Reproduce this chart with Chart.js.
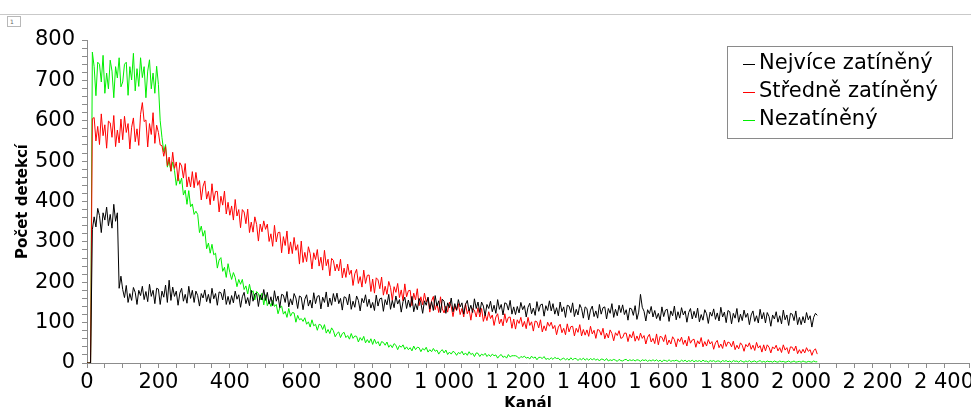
<!DOCTYPE html>
<html>
<head>
<meta charset="utf-8">
<script src="https://cdn.jsdelivr.net/npm/chart.js@4.4.1/dist/chart.umd.min.js"></script>
<style>
  html, body { margin: 0; padding: 0; background: #fff; overflow: hidden; }
  #wrap { position: relative; width: 971px; height: 407px; }
  #topline { position: absolute; left: 0; top: 14px; width: 971px; height: 0; border-top: 1px solid #c9c9c9; z-index: 2; }
  #pagebox { position: absolute; left: 7px; top: 16px; width: 12px; height: 9px; border: 1px solid #b8b8b8; font: 6px "DejaVu Sans", sans-serif; color: #666; line-height: 9px; text-indent: 2px; z-index: 2; background: #fff; }
  canvas { position: absolute; left: 0; top: 0; }
</style>
</head>
<body>
<div id="wrap">
  <div id="topline"></div>
  <div id="pagebox">1</div>
  <canvas id="c" width="971" height="407"></canvas>
</div>
<script>
// Channel spacing of the sampled points (channels 0, 5, 10, ... 2045)
const channelStep = 5;

const nejvice = [
  0,0,0,330,362,337,383,365,323,372,354,386,340,368,334,393,351,372,185,215,
  182,162,192,150,172,155,187,175,145,180,167,190,157,177,152,195,165,180,147,185,
  183,145,178,163,193,150,205,155,188,165,178,143,173,185,153,170,148,190,160,180,
  150,178,167,141,172,161,181,152,170,148,185,159,172,143,176,174,156,183,145,165,
  145,167,149,178,158,169,138,164,175,147,162,142,180,153,171,173,140,169,156,182,
  155,175,146,164,142,179,153,166,137,170,168,150,177,139,159,144,172,161,135,166,
  163,132,158,169,141,156,136,174,147,165,167,134,163,150,176,139,161,143,172,152,
  173,147,160,131,164,162,144,171,133,153,138,166,155,129,160,149,169,140,158,136,
  150,130,168,141,159,161,128,157,144,170,133,155,137,166,146,157,126,152,163,135,
  156,138,165,127,147,132,160,149,123,154,143,163,134,152,130,167,141,154,125,158,
  153,123,149,137,161,127,147,131,157,139,149,121,145,155,129,143,125,159,135,151,
  125,151,141,117,145,135,153,127,143,123,157,133,145,119,149,147,131,155,121,139,
  120,140,124,150,132,142,114,138,148,122,136,118,152,128,144,146,116,142,130,154,
  129,147,121,137,117,151,127,139,113,143,141,125,149,115,133,119,145,135,111,139,
  135,107,131,141,115,129,111,145,121,137,139,109,135,123,147,113,133,117,143,125,
  144,120,132,106,136,134,118,142,108,126,170,138,128,104,132,122,140,114,130,110,
  123,105,139,115,131,133,103,129,117,141,107,127,111,137,119,129,101,125,135,109,
  128,112,136,102,120,106,132,122,98,126,116,134,108,124,104,138,114,126,100,130,
  127,97,123,111,135,101,121,105,131,113,123,95,119,129,103,117,99,133,109,125,
  99,125,115,91,119,109,127,101,117,97,131,107,119,93,123,121,105,129,95,113,
  95,115,99,125,107,117,89,113,123,118
];

const stredne = [
  0,0,0,605,608,550,586,541,617,563,590,532,599,595,559,613,536,577,545,604,
  553,611,571,593,530,584,607,548,580,539,616,645,598,602,535,593,566,620,544,589,
  571,540,538,512,536,489,510,475,522,482,498,451,496,488,458,494,436,461,436,474,
  434,472,440,452,404,438,451,406,425,392,444,402,425,425,374,413,391,426,369,398,
  366,389,354,405,364,380,335,380,374,345,381,323,349,324,362,343,302,344,325,352,
  331,344,301,320,289,341,300,323,324,273,313,291,327,270,300,271,311,279,293,245,
  302,249,274,251,288,271,233,273,256,281,240,262,230,279,241,257,216,259,254,228,
  245,228,257,211,235,212,245,219,230,192,221,232,197,214,188,230,197,217,218,177,
  208,173,211,206,184,213,168,190,170,202,187,155,189,175,197,162,181,154,196,164,
  179,180,142,173,156,184,142,164,144,173,151,162,126,154,165,132,147,125,164,134,
  124,141,126,151,140,115,141,130,147,120,135,114,147,122,133,106,135,131,114,137,
  114,135,103,120,105,127,110,119,93,114,122,97,109,92,122,100,113,114,86,109,
  84,107,98,113,90,103,85,113,93,102,79,104,102,87,107,77,92,80,101,91,
  101,85,93,70,89,96,75,86,70,97,77,90,91,67,86,76,95,67,83,69,
  82,66,91,72,81,61,83,81,69,86,60,74,62,82,73,55,75,68,80,61,
  63,74,74,53,71,62,78,54,67,56,74,61,68,47,64,71,52,61,48,72,
  45,66,64,53,70,45,57,47,65,58,40,60,53,64,46,57,42,66,49,57,
  59,39,55,47,63,40,53,42,58,47,53,34,50,56,38,47,36,57,41,52,
  50,40,54,33,44,35,50,44,29,46,40,50,34,44,31,51,37,43,27,45,
  30,45,39,25,40,35,44,30,38,26,45,32,38,23,40,39,30,42,23,33,
  24,34,25,38,29,33,19,31,35,22
];

const nezatineny = [
  0,0,0,770,734,662,745,740,696,762,668,718,679,750,723,657,734,706,756,684,
  696,740,745,663,734,701,767,674,729,685,756,707,734,657,723,751,679,718,668,735,
  690,600,558,523,541,485,501,475,498,477,440,465,443,458,416,428,393,427,387,394,
  368,376,368,323,339,314,328,283,297,272,294,268,272,235,255,261,227,237,212,246,
  224,207,224,212,189,207,195,207,182,191,171,195,173,179,156,177,172,156,173,144,
  169,142,153,140,155,140,145,122,137,141,121,128,113,135,116,125,124,101,118,107,
  110,103,112,96,102,89,107,92,96,81,96,94,83,95,74,83,73,87,80,65,
  73,77,63,73,76,63,68,59,73,61,67,66,52,63,56,66,50,58,50,60,
  46,59,48,53,42,53,51,44,52,39,45,38,48,44,33,43,39,45,34,40,
  33,38,30,42,33,39,38,28,36,32,39,27,33,28,36,29,32,22,29,33,
  25,32,21,27,22,29,26,19,26,23,29,20,25,19,28,21,24,16,25,24,
  16,22,19,24,16,21,16,22,18,20,12,18,21,14,17,12,21,15,18,18,
  18,16,11,16,14,17,12,14,10,17,12,15,8,14,14,11,16,9,11,9,
  13,9,14,11,12,7,10,12,8,11,7,13,8,11,11,6,11,8,12,7,
  11,7,11,8,11,7,10,5,10,9,6,11,5,8,6,9,7,4,9,6,
  5,8,9,5,8,6,8,5,8,7,4,8,6,8,4,7,5,8,5,8,
  4,7,3,7,6,4,8,4,6,5,7,5,3,7,4,7,3,6,4,7,
  3,6,4,6,3,7,4,5,2,6,4,6,3,5,5,2,6,4,6,3,
  5,2,6,4,5,2,6,4,2,5,3,6,2,4,5,2,4,6,2,4,
  2,5,3,4,2,5,3,2,5,3,4,2,3,5,2,3,5,2,3,4,
  2,5,3,2,4,3,2,5,3,3
];

const seriesNames = ['Nejvíce zatíněný', 'Středně zatíněný', 'Nezatíněný'];
const seriesColors = ['#000000', '#ff0000', '#00ee00'];

const xTickValues = [0, 200, 400, 600, 800, 1000, 1200, 1400, 1600, 1800, 2000, 2200, 2400];
const yTickValues = [0, 100, 200, 300, 400, 500, 600, 700, 800];

const xTitle = 'Kanál';
const yTitle = 'Počet detekcí';

function toPoints(values) {
  return values.map((v, i) => ({ x: i * channelStep, y: v }));
}

function fmt(n) {
  return String(n).replace(/\B(?=(\d{3})+(?!\d))/g, ' ');
}

const boxLegend = {
  id: 'boxLegend',
  afterDraw(chart) {
    const ctx = chart.ctx;
    ctx.save();
    const bx = 727.5, by = 46.5, bw = 225, bh = 92;
    ctx.fillStyle = '#ffffff';
    ctx.fillRect(bx, by, bw, bh);
    ctx.strokeStyle = '#8a8a8a';
    ctx.lineWidth = 1;
    ctx.strokeRect(bx, by, bw, bh);
    ctx.font = '21px "DejaVu Sans"';
    ctx.textBaseline = 'middle';
    ctx.textAlign = 'left';
    chart.data.datasets.forEach((ds, i) => {
      const cy = 64 + i * 28;
      ctx.strokeStyle = ds.borderColor;
      ctx.lineWidth = 1;
      ctx.beginPath();
      ctx.moveTo(743, cy + 0.5);
      ctx.lineTo(755, cy + 0.5);
      ctx.stroke();
      ctx.fillStyle = '#000';
      ctx.fillText(ds.label, 759, cy);
    });
    ctx.restore();
  }
};

const datasets = [nejvice, stredne, nezatineny].map((vals, i) => ({
  label: seriesNames[i],
  data: toPoints(vals),
  borderColor: seriesColors[i],
  backgroundColor: seriesColors[i],
  borderWidth: 1,
  pointRadius: 0,
  tension: 0,
  fill: false
}));

new Chart(document.getElementById('c'), {
  type: 'line',
  data: { datasets },
  plugins: [boxLegend],
  options: {
    responsive: false,
    animation: false,
    events: [],
    layout: { padding: { top: 40, right: 0, bottom: 0, left: 0 } },
    plugins: { legend: { display: false }, tooltip: { enabled: false } },
    scales: {
      x: {
        type: 'linear',
        min: 0,
        max: 2470,
        afterFit(s) { s.height = 44; },
        border: { display: true, color: '#8c8c8c', width: 1 },
        grid: { display: true, drawOnChartArea: false, drawTicks: true, tickLength: 5, tickColor: '#8c8c8c' },
        ticks: {
          stepSize: 50,
          autoSkip: false,
          maxRotation: 0,
          padding: 2,
          color: '#000',
          font: { family: 'DejaVu Sans', size: 21 },
          callback: (v) => xTickValues.includes(v) ? fmt(v) : ''
        },
        title: {
          display: true,
          text: xTitle,
          color: '#000',
          font: { family: 'DejaVu Sans', size: 15, weight: 'bold' },
          padding: { top: 0, bottom: -6 }
        }
      },
      y: {
        type: 'linear',
        min: 0,
        max: 800,
        afterFit(s) { s.width = 87; },
        border: { display: true, color: '#8c8c8c', width: 1 },
        grid: { display: true, drawOnChartArea: false, drawTicks: true, tickLength: 5, tickColor: '#8c8c8c' },
        ticks: {
          stepSize: 20,
          autoSkip: false,
          padding: 7,
          color: '#000',
          font: { family: 'DejaVu Sans', size: 21 },
          callback: (v) => yTickValues.includes(v) ? String(v) : ''
        },
        title: {
          display: true,
          text: yTitle,
          color: '#000',
          font: { family: 'DejaVu Sans', size: 15, weight: 'bold' },
          padding: { top: 14, bottom: 0 }
        }
      }
    }
  }
});
</script>
</body>
</html>
